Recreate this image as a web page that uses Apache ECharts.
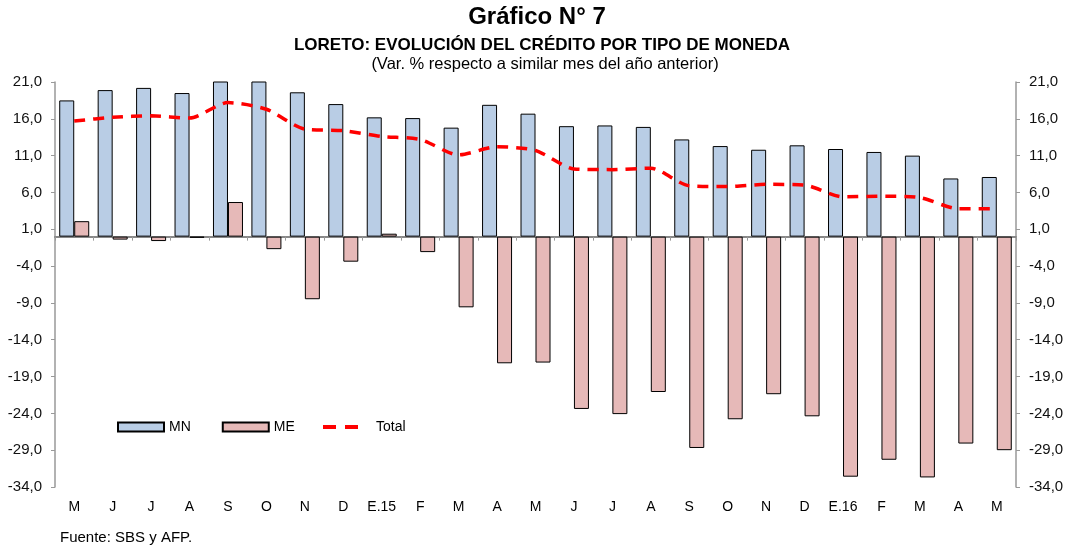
<html>
<head>
<meta charset="utf-8">
<title>Gráfico N° 7</title>
<script src="https://cdn.jsdelivr.net/npm/echarts@6/dist/echarts.min.js"></script>
<style>
  body { margin: 0; background: #fff; }
  #main { width: 1069px; height: 547px; }
</style>
</head>
<body>
<div id="main"></div>
<script type="text/javascript">
// meses (may 2014 - may 2016)
var meses = ['M','J','J','A','S','O','N','D','E.15','F','M','A','M','J','J','A','S','O','N','D','E.16','F','M','A','M'];
// moneda nacional
var mn = [18.5,19.9,20.2,19.5,21.4,21.2,19.6,18.0,16.2,16.1,14.8,17.9,16.7,15.0,15.1,14.9,13.2,12.3,11.8,12.4,11.9,11.5,11.0,7.9,8.1];
// moneda extranjera
var me = [2.1,-0.4,-0.6,-0.15,4.7,-1.7,-8.5,-3.4,0.4,-2.1,-9.6,-17.2,-17.1,-23.4,-24.1,-21.1,-28.7,-24.8,-21.4,-24.4,-32.6,-30.3,-32.7,-28.1,-29.0];
// total
var total = [15.7,16.2,16.4,16.1,18.2,17.3,14.6,14.4,13.6,13.2,11.1,12.2,11.7,9.2,9.1,9.3,6.9,6.8,7.1,7.0,5.4,5.5,5.3,3.8,3.8];

var fuente = 'Liberation Sans, Arial, sans-serif';
var myChart = echarts.init(document.getElementById('main'));

function fmt(v) { return v.toFixed(1).replace('.', ','); }

function ejeY(pos) {
    return {
        type: 'value', position: pos, min: -34, max: 21, interval: 5,
        axisLine: { show: true, lineStyle: { color: '#999', width: 1.5 } },
        axisTick: { show: true, length: 4, lineStyle: { color: '#999' } },
        splitLine: { show: false },
        axisLabel: { color: '#111', fontSize: 15, fontFamily: fuente, margin: 13, formatter: fmt }
    };
}

myChart.setOption({
    animation: false,
    textStyle: { fontFamily: fuente },
    title: [
        { text: 'Gráfico N° 7', left: 537, top: 5, textAlign: 'center', padding: 0,
          textStyle: { fontSize: 24, fontWeight: 'bold', color: '#000', fontFamily: fuente } },
        { text: 'LORETO: EVOLUCIÓN DEL CRÉDITO POR TIPO DE MONEDA', left: 542, top: 37, textAlign: 'center', padding: 0,
          textStyle: { fontSize: 17, fontWeight: 'bold', color: '#000', fontFamily: fuente } },
        { text: '(Var. % respecto a similar mes del año anterior)', left: 545, top: 56, textAlign: 'center', padding: 0,
          textStyle: { fontSize: 16.5, fontWeight: 'normal', color: '#000', fontFamily: fuente } },
        { text: 'Fuente: SBS y AFP.', left: 60, top: 530, padding: 0,
          textStyle: { fontSize: 15, fontWeight: 'normal', color: '#000', fontFamily: fuente } }
    ],
    legend: [
        { left: 117, top: 420, padding: 0, icon: 'rect',
          itemWidth: 46, itemHeight: 9, itemGap: 31,
          textStyle: { fontSize: 14, color: '#000', fontFamily: fuente },
          data: ['MN', 'ME'] },
        { left: 323, top: 420, padding: 0,
          itemWidth: 35, itemHeight: 4,
          textStyle: { fontSize: 14, color: '#000', fontFamily: fuente, padding: [0, 0, 0, 13] },
          data: [{ name: 'Total', icon: 'path://M0,0H13V4H0Z M22,0H35V4H22Z' }] }
    ],
    grid: { left: 55, right: 53, top: 82, bottom: 60 },
    xAxis: [
        { type: 'category', data: meses,
          axisLine: { onZero: true, lineStyle: { color: '#888', width: 2 } },
          axisTick: { show: true, length: 4, lineStyle: { color: '#999' } },
          axisLabel: { show: false } },
        { type: 'category', data: meses, position: 'bottom',
          axisLine: { show: false, onZero: false },
          axisTick: { show: false },
          axisLabel: { color: '#000', fontSize: 14, fontFamily: fuente, margin: 13 } }
    ],
    yAxis: [ejeY('left'), ejeY('right')],
    series: [
        { name: 'MN', type: 'bar', data: mn, barWidth: 15, barGap: '0%',
          itemStyle: { color: '#b9cde5', borderColor: '#000', borderWidth: 1 } },
        { name: 'ME', type: 'bar', data: me, barWidth: 15, barGap: '0%',
          itemStyle: { color: '#e6b9b8', borderColor: '#000', borderWidth: 1 } },
        { name: 'Total', type: 'line', data: total, symbol: 'none', smooth: 0.25, z: 5,
          itemStyle: { color: '#ff0000' },
          lineStyle: { color: '#ff0000', width: 3.5, type: [11, 8] } }
    ]
});
</script>
</body>
</html>
